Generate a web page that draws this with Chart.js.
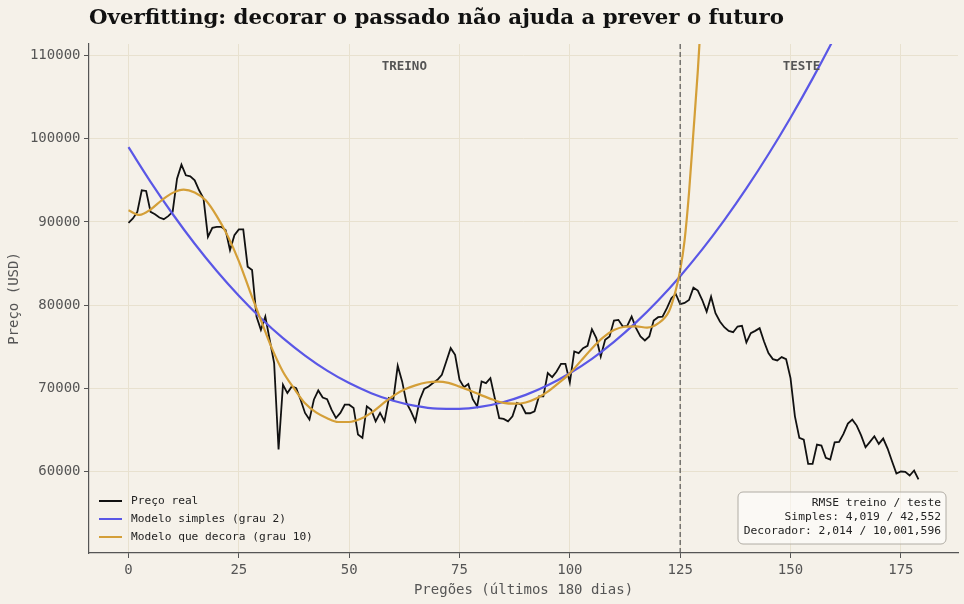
<!DOCTYPE html>
<html lang="pt">
<head>
<meta charset="utf-8">
<title>Overfitting</title>
<script src="https://cdn.jsdelivr.net/npm/chart.js@4.4.1/dist/chart.umd.min.js"></script>
<style>
  html, body { margin: 0; padding: 0; background: #f5f1e9; }
  #wrap { width: 964px; height: 604px; position: relative; }
</style>
</head>
<body>
<div id="wrap"><canvas id="chart"></canvas></div>
<script>
// preço real, um valor por pregão (0..179)
const price = [
  89900, 90420, 91210, 93810, 93730, 91210, 90940, 90540, 90340, 90700,
  91210, 95210, 96890, 95610, 95490, 95010, 93810, 92820, 88210, 89290,
  89410, 89410, 89020, 86620, 88420, 89100, 89100, 84620, 84220, 78620,
  77030, 78620, 75830, 73030, 62640, 70430, 69430, 70230, 70030, 68630,
  67040, 66240, 68630, 69750, 68900, 68700, 67430, 66430, 67040, 68030,
  68030, 67640, 64440, 64040, 67830, 67430, 66030, 67040, 66030, 68840,
  68630, 72710, 70830, 68240, 67230, 66030, 68630, 69930, 70230, 70630,
  71030, 71630, 73230, 74830, 74030, 71030, 70130, 70530, 68700, 67830,
  70830, 70630, 71230, 68800, 66400, 66330, 66030, 66630, 68240, 68030,
  67000, 67000, 67230, 69030, 69030, 71830, 71350, 72030, 72950, 72950,
  70710, 74430, 74230, 74830, 75110, 77110, 76030, 73830, 75830, 76230,
  78150, 78230, 77430, 77510, 78620, 77230, 76230, 75750, 76230, 78150,
  78550, 78620, 79630, 80830, 81340, 80120, 80260, 80620, 82100, 81750,
  80620, 79220, 81020, 79030, 78030, 77350, 76910, 76750, 77430, 77510,
  75510, 76630, 76910, 77230, 75630, 74230, 73510, 73350, 73750, 73510,
  71230, 66630, 64040, 63840, 60920, 60920, 63240, 63120, 61640, 61440,
  63510, 63560, 64520, 65760, 66240, 65520, 64350, 62910, 63560, 64230,
  63320, 63960, 62760, 61240, 59760, 60000, 59960, 59520, 60120, 59040
];
const days = price.map((v, i) => i);

// modelo simples (grau 2)
const simpleX = [0, 5, 10, 15, 20, 25, 30, 35, 40, 45, 50, 55, 60, 65, 70, 75, 80, 85,
  90, 95, 100, 105, 110, 115, 120, 125, 130, 135, 140, 145, 150, 155, 160, 165];
const simpleY = [98990, 94830, 90960, 87380, 84100, 81120, 78430, 76030, 73940, 72130,
  70630, 69420, 68500, 67880, 67550, 67520, 67790, 68350, 69210, 70360, 71810, 73550,
  75590, 77930, 80560, 83480, 86700, 90220, 94030, 98140, 102540, 107240, 112230, 117520];

// modelo que decora (grau 10)
const decoraX = [0, 2.5, 5, 7.5, 10, 12.5, 15, 17.5, 20, 22.5, 25, 27.5, 30, 32.5, 35,
  37.5, 40, 42.5, 45, 47.5, 50, 52.5, 55, 57.5, 60, 62.5, 65, 67.5, 70, 72.5, 75, 77.5,
  80, 82.5, 85, 87.5, 90, 92.5, 95, 97.5, 100, 102.5, 105, 107.5, 110, 112.5, 115,
  117.5, 120, 122.5, 124, 125, 126, 127, 128, 129, 130];
const decoraY = [91400, 90850, 91500, 92600, 93500, 93900, 93550, 92600, 90700, 88300,
  85300, 81700, 78200, 74800, 72000, 70000, 68200, 67100, 66400, 65950, 65950, 66300,
  67050, 68100, 69100, 69850, 70350, 70700, 70800, 70650, 70200, 69700, 69150, 68650,
  68250, 68150, 68300, 68800, 69600, 70650, 71800, 73300, 74800, 76100, 77000, 77400,
  77450, 77300, 77800, 79300, 81800, 84200, 87800, 93500, 100800, 108200, 117000];

const xTicks = [0, 25, 50, 75, 100, 125, 150, 175];
const yTicks = [60000, 70000, 80000, 90000, 100000, 110000];
const splitDay = 125;
const yMin = 50200, yMax = 111400;

const rmseLines = ['RMSE treino / teste', 'Simples: 4,019 / 42,552', 'Decorador: 2,014 / 10,001,596'];

const MONO = '"DejaVu Sans Mono", monospace';
const INK = '#555';

function pts(xs, ys) {
  return xs.map((x, i) => ({ x: x, y: ys[i] }));
}

const legendItems = [
  { label: 'Preço real', color: '#111111' },
  { label: 'Modelo simples (grau 2)', color: '#5a57e6' },
  { label: 'Modelo que decora (grau 10)', color: '#d49f38' }
];

// título, rótulos das fases, legenda e caixa de RMSE
const overlay = {
  id: 'overlay',
  afterDraw(chart) {
    const ctx = chart.ctx;
    const area = chart.chartArea;
    const x = chart.scales.x;
    ctx.save();

    ctx.fillStyle = '#111';
    ctx.font = 'bold 21.3px "DejaVu Serif", serif';
    ctx.textAlign = 'left';
    ctx.textBaseline = 'alphabetic';
    ctx.fillText('Overfitting: decorar o passado não ajuda a prever o futuro', area.left, 24);

    ctx.fillStyle = INK;
    ctx.font = 'bold 12.5px ' + MONO;
    ctx.textAlign = 'center';
    ctx.textBaseline = 'middle';
    ctx.fillText('TREINO', x.getPixelForValue(splitDay / 2), area.top + 23);
    ctx.fillText('TESTE', x.getPixelForValue((splitDay + 180) / 2), area.top + 23);

    // legenda
    ctx.font = '11.2px ' + MONO;
    ctx.textAlign = 'left';
    legendItems.forEach((it, i) => {
      const y = area.bottom - 52 + i * 18;
      ctx.strokeStyle = it.color;
      ctx.lineWidth = 2;
      ctx.beginPath();
      ctx.moveTo(area.left + 10, y);
      ctx.lineTo(area.left + 33, y);
      ctx.stroke();
      ctx.fillStyle = '#222';
      ctx.fillText(it.label, area.left + 42, y);
    });

    // caixa RMSE
    const bx = area.right - 220, by = area.bottom - 61, bw = 208, bh = 52;
    ctx.beginPath();
    ctx.roundRect(bx, by, bw, bh, 5);
    ctx.fillStyle = 'rgba(255,255,255,0.55)';
    ctx.fill();
    ctx.strokeStyle = '#b0aca4';
    ctx.lineWidth = 1;
    ctx.stroke();
    ctx.fillStyle = '#222';
    ctx.font = '11.3px ' + MONO;
    ctx.textAlign = 'right';
    rmseLines.forEach((t, i) => {
      ctx.fillText(t, bx + bw - 5, by + 11 + i * 14);
    });

    ctx.restore();
  }
};

new Chart(document.getElementById('chart'), {
  type: 'line',
  data: {
    datasets: [
      {
        label: 'Preço real',
        data: pts(days, price),
        borderColor: '#111111',
        borderWidth: 1.8,
        pointRadius: 0,
        tension: 0,
        order: 3
      },
      {
        label: 'Modelo simples (grau 2)',
        data: pts(simpleX, simpleY),
        borderColor: '#5a57e6',
        borderWidth: 2.2,
        pointRadius: 0,
        cubicInterpolationMode: 'monotone',
        order: 2
      },
      {
        label: 'Modelo que decora (grau 10)',
        data: pts(decoraX, decoraY),
        borderColor: '#d49f38',
        borderWidth: 2.2,
        pointRadius: 0,
        cubicInterpolationMode: 'monotone',
        order: 1
      },
      {
        label: 'divisão',
        data: pts([splitDay, splitDay], [yMin, yMax]),
        borderColor: INK,
        borderWidth: 1.2,
        borderDash: [5, 3],
        pointRadius: 0,
        order: 0
      }
    ]
  },
  options: {
    responsive: true,
    maintainAspectRatio: false,
    animation: false,
    layout: { padding: { top: 44, right: 6, left: 0, bottom: 0 } },
    plugins: {
      legend: { display: false },
      tooltip: { enabled: false }
    },
    scales: {
      x: {
        type: 'linear',
        min: -8.95,
        max: 187.95,
        afterBuildTicks: s => { s.ticks = xTicks.map(v => ({ value: v })); },
        afterFit: s => { s.height = 51; },
        ticks: {
          font: { family: MONO, size: 14 },
          color: INK,
          padding: 4,
          autoSkip: false,
          maxRotation: 0,
          callback: v => String(v)
        },
        grid: { color: '#e8e1cf', lineWidth: 1, tickLength: 5, tickColor: INK },
        border: { color: INK, width: 1.2 },
        title: {
          display: true,
          text: 'Pregões (últimos 180 dias)',
          font: { family: MONO, size: 14 },
          color: INK,
          padding: { top: 0, bottom: 5.6 }
        }
      },
      y: {
        min: yMin,
        max: yMax,
        afterBuildTicks: s => { s.ticks = yTicks.map(v => ({ value: v })); },
        afterFit: s => { s.width = 89; },
        ticks: {
          font: { family: MONO, size: 14 },
          color: INK,
          padding: 3.5,
          callback: v => String(v)
        },
        grid: { color: '#e8e1cf', lineWidth: 1, tickLength: 5, tickColor: INK },
        border: { color: INK, width: 1.2 },
        title: {
          display: true,
          text: 'Preço (USD)',
          font: { family: MONO, size: 14 },
          color: INK,
          padding: { top: 5.6, bottom: 0 }
        }
      }
    }
  },
  plugins: [overlay]
});
</script>
</body>
</html>
